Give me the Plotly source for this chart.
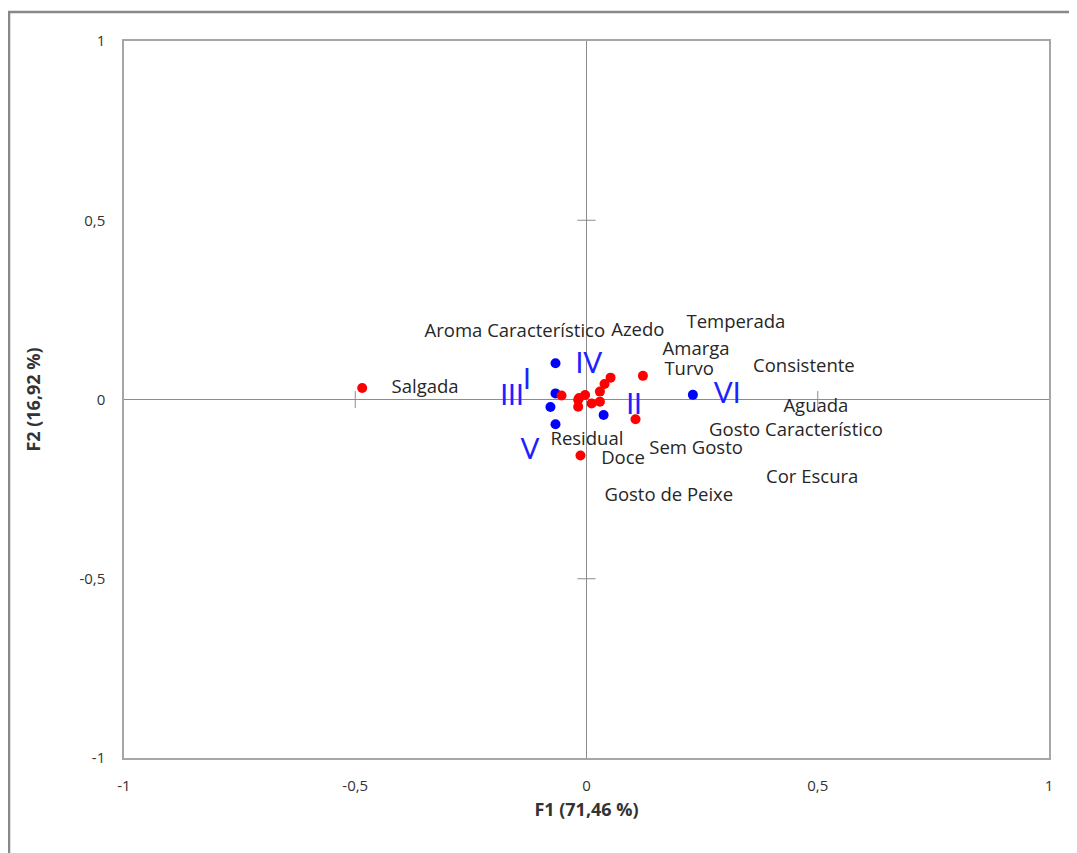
import plotly.graph_objects as go

# Red points (attributes)
attr_x = [-0.485, -0.054, -0.018, -0.003, -0.018, -0.016, 0.011, 0.029, 0.029, 0.039, 0.052, 0.122, 0.106, -0.013]
attr_y = [0.032, 0.011, -0.001, 0.0125, -0.020, 0.004, -0.011, -0.006, 0.022, 0.043, 0.061, 0.066, -0.055, -0.156]

# Blue points (samples)
samp_x = [-0.067, -0.067, -0.078, -0.067, 0.037, 0.230]
samp_y = [0.101, 0.017, -0.021, -0.069, -0.043, 0.013]

# Attribute labels and their positions
attr_labels = ["Salgada", "Aroma Característico", "Azedo", "Temperada", "Amarga", "Turvo",
               "Consistente", "Aguada", "Gosto Característico", "Cor Escura",
               "Gosto de Peixe", "Sem Gosto", "Doce", "Residual"]
attr_lx = [-0.349, -0.155, 0.111, 0.323, 0.237, 0.222, 0.470, 0.496, 0.453, 0.488, 0.178, 0.237, 0.079, 0.001]
attr_ly = [0.032, 0.188, 0.191, 0.213, 0.137, 0.080, 0.091, -0.021, -0.088, -0.219, -0.269, -0.138, -0.166, -0.113]

# Sample labels and their positions
samp_labels = ["I", "III", "IV", "V", "II", "VI"]
samp_lx = [-0.129, -0.161, 0.005, -0.122, 0.103, 0.304]
samp_ly = [0.049, 0.004, 0.093, -0.146, -0.021, 0.010]

# Axis ticks
tick_vals = [-1, -0.5, 0, 0.5, 1]
tick_text = ["-1", "-0,5", "0", "0,5", "1"]
minor_ticks = [-0.5, 0.5]

fig = go.Figure()

# tick marks on the zero lines
fig.add_trace(go.Scatter(x=minor_ticks, y=[0, 0], mode="markers",
                         marker=dict(symbol="line-ns", size=12, line=dict(color="#8c8c8c", width=1)),
                         hoverinfo="skip", showlegend=False))
fig.add_trace(go.Scatter(x=[0, 0], y=minor_ticks, mode="markers",
                         marker=dict(symbol="line-ew", size=13, line=dict(color="#8c8c8c", width=1)),
                         hoverinfo="skip", showlegend=False))

fig.add_trace(go.Scatter(x=samp_x, y=samp_y, mode="markers",
                         marker=dict(color="#0000ff", size=10), showlegend=False))
fig.add_trace(go.Scatter(x=attr_x, y=attr_y, mode="markers",
                         marker=dict(color="#ff0000", size=10), showlegend=False))

fig.add_trace(go.Scatter(x=attr_lx, y=attr_ly, mode="text", text=attr_labels,
                         textposition="middle center",
                         textfont=dict(family="Open Sans", size=18.5, color="#262626"),
                         showlegend=False, hoverinfo="skip"))
fig.add_trace(go.Scatter(x=samp_lx, y=samp_ly, mode="text", text=samp_labels,
                         textposition="middle center",
                         textfont=dict(family="Lato", size=28, color="#1f1fff"),
                         showlegend=False, hoverinfo="skip"))

axis_common = dict(range=[-1, 1], tickvals=tick_vals, ticktext=tick_text,
                   showgrid=False, zeroline=True, zerolinecolor="#8c8c8c", zerolinewidth=1.3,
                   showline=True, linecolor="#a6a6a6", linewidth=1.5, mirror=True,
                   ticks="", tickfont=dict(family="Open Sans", size=15, color="#333333"))

fig.update_xaxes(**axis_common, ticklabelstandoff=13,
                 title=dict(text="<b>F1 (71,46 %)</b>", font=dict(family="Open Sans", size=18, color="#333333"),
                            standoff=10))
fig.update_yaxes(**axis_common, ticklabelstandoff=14,
                 title=dict(text="<b>F2 (16,92 %)</b>", font=dict(family="Open Sans", size=18, color="#333333"),
                            standoff=34))

# outer chart border (extends beyond right and bottom edges)
fig.add_shape(type="rect", xref="paper", yref="paper",
              x0=-0.1243, x1=1.2, y0=-0.3, y1=1.0405,
              line=dict(color="#888888", width=2.5), layer="below")

fig.update_layout(width=1077, height=853,
                  margin=dict(l=116, r=36, t=33, b=103),
                  plot_bgcolor="white", paper_bgcolor="white",
                  separators=", ", showlegend=False)

fig.write_html("out.html")
